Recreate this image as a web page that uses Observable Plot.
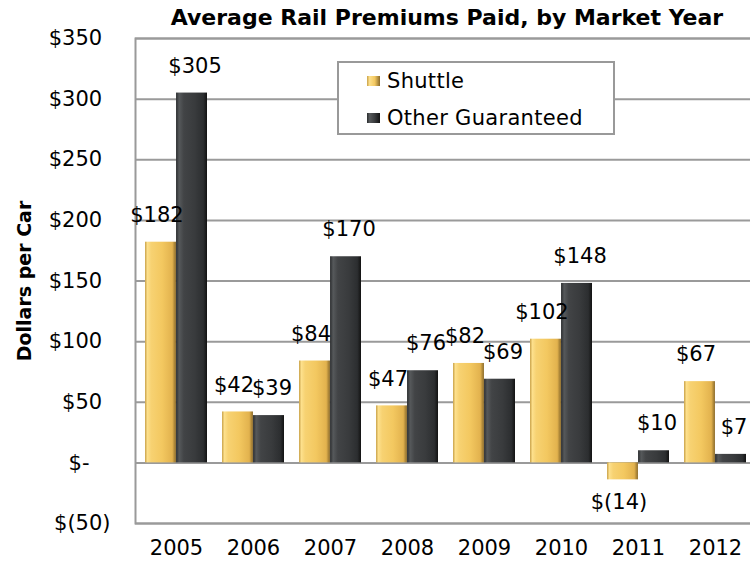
<!DOCTYPE html>
<html><head><meta charset="utf-8">
<script src="https://cdn.jsdelivr.net/npm/d3@7"></script>
<script src="https://cdn.jsdelivr.net/npm/@observablehq/plot@0.6"></script>
<style>
html,body{margin:0;padding:0;background:#fff;overflow:hidden;width:750px;height:567px}
#wrap{position:relative;width:750px;height:567px;font-family:"DejaVu Sans",sans-serif;overflow:hidden}
#chart{position:absolute;left:0;top:0}
#chart svg{max-width:none !important}
#title{position:absolute;left:147px;top:5px;width:600px;text-align:center;font-weight:bold;font-size:22px;line-height:26px;white-space:nowrap;color:#000}
#ylab{position:absolute;left:24px;top:281px;transform:translate(-50%,-50%) rotate(-90deg);font-weight:bold;font-size:19px;white-space:nowrap;color:#000}
#legend{position:absolute;left:337px;top:61px;width:274px;height:70px;border:2px solid #999;background:#fff;font-size:21px;letter-spacing:0.3px;color:#000}
.item{position:absolute;left:28px;display:flex;align-items:center;white-space:nowrap}
.sw{width:13px;height:10px;margin-right:7px}
</style></head>
<body><div id="wrap"><div id="chart"></div>
<div id="title"></div><div id="ylab"></div><div id="legend"></div></div>
<script>
const years = ["2005","2006","2007","2008","2009","2010","2011","2012"];
const shuttle = [182, 42, 84, 47, 82, 102, -14, 67];
const other = [305, 39, 170, 76, 69, 148, 10, 7];
const seriesNames = ["Shuttle", "Other Guaranteed"];
const yTicks = [-50, 0, 50, 100, 150, 200, 250, 300, 350];
const titleText = "Average Rail Premiums Paid, by Market Year";
const yLabel = "Dollars per Car";

const rows = years.flatMap((yr, i) => [
  {year: yr, series: seriesNames[0], value: shuttle[i]},
  {year: yr, series: seriesNames[1], value: other[i]}
]);
const fmt = v => v < 0 ? `$(${-v})` : `$${v}`;
const tickFmt = v => v === 0 ? "$-\u2002\u2002" : v < 0 ? `$(${-v})` : `$${v}\u2009\u2009`;

const W = 760, ML = 135, MR = 4;
const pIn = 0.2, pOut = 0.1;
const step = (W - ML - MR) / (years.length - pIn + 2 * pOut);
const bw = step * (1 - pIn);
const half = bw / 2;

const sh = rows.filter(d => d.series === seriesNames[0]);
const ot = rows.filter(d => d.series === seriesNames[1]);

const plot = Plot.plot({
  width: W, height: 567,
  marginLeft: ML, marginRight: MR, marginTop: 38, marginBottom: 44,
  style: {fontFamily: "'DejaVu Sans', sans-serif", fontSize: "21px", color: "#000", background: "transparent", overflow: "visible", maxWidth: "none"},
  x: {domain: years, paddingInner: pIn, paddingOuter: pOut, label: null, tickSize: 0, tickPadding: 17},
  y: {domain: [-50, 350], ticks: yTicks, tickFormat: tickFmt, tickSize: 0, tickPadding: 25, label: null},
  marks: [
    Plot.ruleY(yTicks, {stroke: "#9a9a9a", strokeWidth: 2}),
    Plot.frame({stroke: "#9a9a9a", strokeWidth: 2}),
    Plot.barY(sh, {x: "year", y: "value", fill: "url(#goldGrad)", insetRight: half}),
    Plot.barY(ot, {x: "year", y: "value", fill: "url(#darkGrad)", insetLeft: half}),
    Plot.text(sh.filter(d => d.value >= 0), {x: "year", y: "value", text: d => fmt(d.value), dx: -half / 2 - 4, dy: -27, fontSize: 21}),
    Plot.text(sh.filter(d => d.value < 0), {x: "year", y: "value", text: d => fmt(d.value), dx: -half / 2 - 4, dy: 22, fontSize: 21}),
    Plot.text(ot, {x: "year", y: "value", text: d => fmt(d.value), dx: half / 2 + 3, dy: -27, fontSize: 21})
  ]
});

const svg = d3.select(plot);
const defs = svg.insert("defs", ":first-child");
function grad(id, stops) {
  const g = defs.append("linearGradient").attr("id", id).attr("x1", 0).attr("x2", 1).attr("y1", 0).attr("y2", 0);
  stops.forEach(([o, c]) => g.append("stop").attr("offset", o).attr("stop-color", c));
}
grad("goldGrad", [[0, "#c9a24a"], [0.08, "#fde08c"], [0.2, "#f7d272"], [0.55, "#f3c860"], [0.88, "#e2b24e"], [1, "#8a6a2a"]]);
grad("darkGrad", [[0, "#2a2c2e"], [0.1, "#56595b"], [0.25, "#424446"], [0.6, "#393b3d"], [0.88, "#2c2e30"], [1, "#121212"]]);
svg.selectAll("text").attr("fill", "#000");
plot.style.maxWidth = "none";
document.getElementById("chart").appendChild(plot);

document.getElementById("title").textContent = titleText;
document.getElementById("ylab").textContent = yLabel;
const leg = document.getElementById("legend");
const legFills = ["linear-gradient(90deg,#c9a24a,#fde08c 20%,#f3c860 60%,#8a6a2a)", "linear-gradient(90deg,#2a2c2e,#56595b 20%,#393b3d 60%,#121212)"];
seriesNames.forEach((name, i) => {
  const it = document.createElement("div");
  it.className = "item";
  it.style.top = (i === 0 ? 6 : 43) + "px";
  const sw = document.createElement("div");
  sw.className = "sw"; sw.style.background = legFills[i];
  const t = document.createElement("span"); t.textContent = name;
  it.appendChild(sw); it.appendChild(t);
  leg.appendChild(it);
});
</script></body></html>
